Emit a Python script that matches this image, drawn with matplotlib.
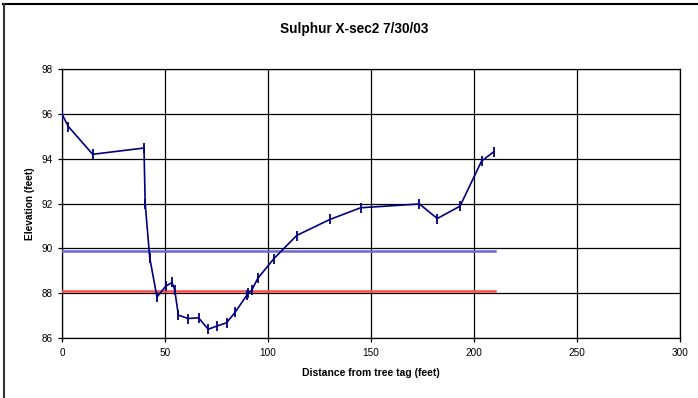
import matplotlib.pyplot as plt
from matplotlib.lines import Line2D

plt.rcParams['font.family'] = ['Liberation Sans', 'DejaVu Sans']

# Survey points
distance = [0, 3.1, 14.9, 39.8, 40.4, 42.6, 46.1, 50.3, 53.4, 54.7, 56.5, 61.3,
            66.3, 71.0, 75.4, 79.9, 84.0, 89.7, 90.4, 92.1, 95.0, 102.9, 113.9,
            130.1, 145.0, 173.5, 182.2, 193.2, 203.7, 209.7]
elevation = [96.0, 95.45, 94.21, 94.49, 92.0, 89.58, 87.83, 88.31, 88.48, 88.16,
             87.02, 86.87, 86.9, 86.39, 86.54, 86.68, 87.14, 87.91, 88.01, 88.13,
             88.66, 89.55, 90.58, 91.30, 91.82, 91.99, 91.34, 91.89, 93.91, 94.33]

# Reference water levels
level_x = [0, 210]
blue_level = [89.87, 89.87]
red_level = [88.1, 88.1]

fig = plt.figure(figsize=(6.98, 3.98), dpi=100)
ax = fig.add_axes([0.0888, 0.1508, 0.9742 - 0.0888, 0.8254 - 0.1508])

ax.plot(level_x, blue_level, color="#6a6ad6", linewidth=1.8, zorder=3)
ax.plot(level_x, red_level, color="#ff4848", linewidth=1.8, zorder=3)
ax.plot(distance, elevation, color="#000080", linewidth=1.2, marker="|",
        markersize=7, markeredgewidth=1.3, zorder=4)

ax.set_xlim(0, 300)
ax.set_ylim(86, 98)
ax.set_xticks([0, 50, 100, 150, 200, 250, 300])
ax.set_yticks([86, 88, 90, 92, 94, 96, 98])
ax.grid(True, color="black", linewidth=0.9)
ax.set_axisbelow(True)
for s in ax.spines.values():
    s.set_linewidth(0.9)
ax.tick_params(direction="out", length=3, width=0.9, labelsize=7.2, pad=4)

fig.text(0.508, 0.927, "Sulphur X-sec2 7/30/03", fontsize=9.8, fontweight="bold",
         ha="center", va="center")
ax.set_xlabel("Distance from tree tag (feet)", fontsize=7.5, fontweight="bold", labelpad=7.5)
ax.set_ylabel("Elevation (feet)", fontsize=7.3, fontweight="bold", labelpad=4)

# chart border (top and left only visible)
fig.add_artist(Line2D([0.005, 1.0], [0.9905, 0.9905], color="black", linewidth=1.5,
                      transform=fig.transFigure))
fig.add_artist(Line2D([0.006, 0.006], [0.0, 0.9905], color="#333333", linewidth=1.5,
                      transform=fig.transFigure))

plt.savefig("out.png", dpi=100)
